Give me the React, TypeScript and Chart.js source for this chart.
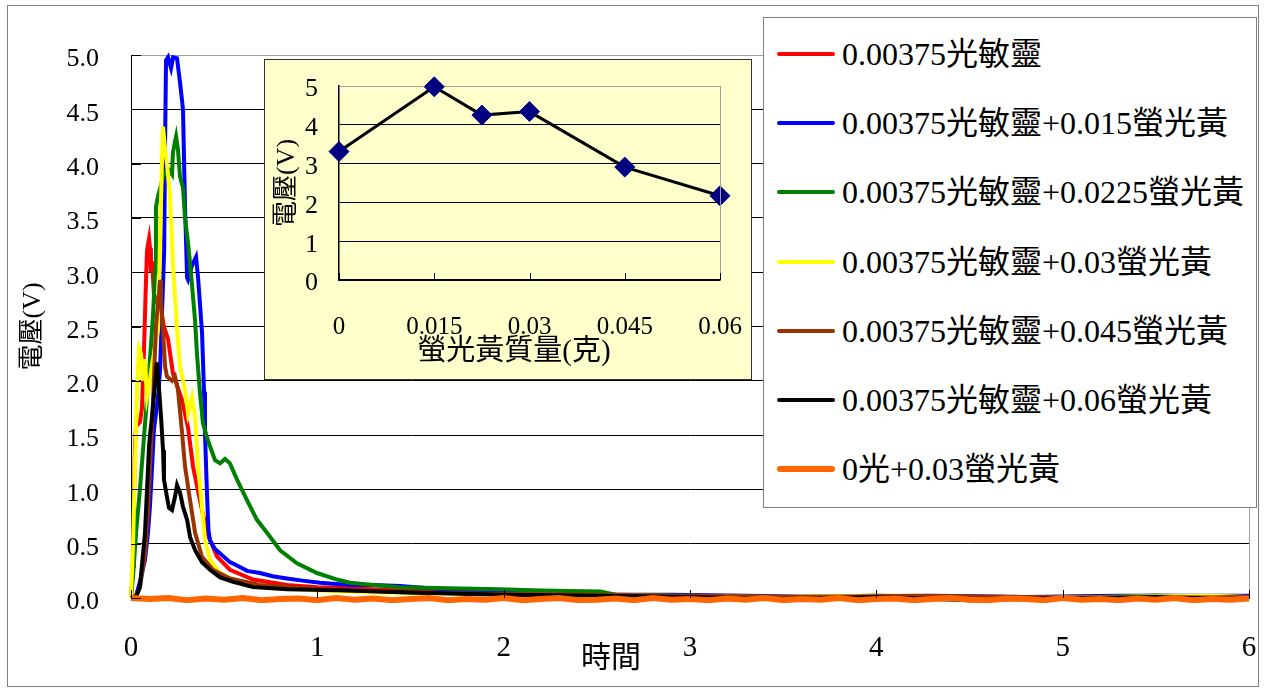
import React, { useEffect, useRef } from 'react';
import { Chart, registerables } from 'chart.js';

Chart.register(...registerables);

const SERIF = "'Liberation Serif', 'Noto Sans CJK TC', serif";

// ---- main chart: voltage traces over time ----
const seriesNames = [
  '0.00375光敏靈',
  '0.00375光敏靈+0.015螢光黃',
  '0.00375光敏靈+0.0225螢光黃',
  '0.00375光敏靈+0.03螢光黃',
  '0.00375光敏靈+0.045螢光黃',
  '0.00375光敏靈+0.06螢光黃',
  '0光+0.03螢光黃',
];
const seriesColors = ['#ff0000', '#0000ff', '#008000', '#ffff00', '#993300', '#000000', '#ff6600'];

const redSeries: [number, number][] = [
  [0, 0], [0.011, 0.3], [0.016, 0.9], [0.021, 1.4], [0.027, 1.58], [0.038, 1.6], [0.048, 1.62],
  [0.059, 1.75], [0.07, 2.3], [0.08, 2.9], [0.086, 3.2], [0.097, 3.31], [0.102, 3.22], [0.107, 3.0],
  [0.113, 3.1], [0.123, 2.8], [0.14, 2.72], [0.156, 2.7], [0.177, 2.5], [0.199, 2.38], [0.225, 2.07],
  [0.274, 1.82], [0.306, 1.57], [0.333, 1.21], [0.37, 0.9], [0.408, 0.6], [0.462, 0.38], [0.531, 0.26],
  [0.655, 0.17], [0.837, 0.12], [1.0, 0.1], [1.176, 0.09], [1.444, 0.07], [1.8, 0.05], [2.2, 0.04],
  [2.6, 0.03], [3.0, 0.02], [3.5, 0.01], [4.0, 0.02], [4.5, 0.0], [5.0, 0.01], [5.5, 0.02], [6.0, 0.01],
];

const blueSeries: [number, number][] = [
  [0, 0], [0.027, 0.02], [0.048, 0.15], [0.075, 0.35], [0.091, 0.6], [0.102, 0.85], [0.113, 1.2],
  [0.123, 1.55], [0.134, 1.7], [0.145, 1.85], [0.156, 2.1], [0.166, 2.6], [0.178, 3.2], [0.183, 4.2],
  [0.188, 4.95], [0.199, 4.98], [0.215, 4.88], [0.226, 4.98], [0.247, 4.97], [0.263, 4.75], [0.279, 4.5],
  [0.29, 3.6], [0.301, 2.95], [0.306, 2.93], [0.327, 3.06], [0.349, 3.14], [0.36, 2.95], [0.381, 2.45],
  [0.392, 1.9], [0.397, 1.52], [0.408, 0.95], [0.416, 0.62], [0.424, 0.53], [0.451, 0.45], [0.478, 0.41],
  [0.531, 0.33], [0.569, 0.3], [0.623, 0.25], [0.692, 0.23], [0.76, 0.2], [0.837, 0.18], [0.92, 0.16],
  [1.014, 0.14], [1.1, 0.13], [1.176, 0.12], [1.3, 0.12], [1.444, 0.11], [1.6, 0.09], [1.8, 0.07],
  [2.0, 0.06], [2.2, 0.05], [2.4, 0.04], [2.6, 0.03], [2.9, 0.03], [3.3, 0.02], [3.8, 0.01], [4.3, 0.02],
  [4.8, 0.01], [5.3, 0.02], [6.0, 0.02],
];

const greenSeries: [number, number][] = [
  [0, 0], [0.011, 0.2], [0.027, 0.6], [0.048, 1.0], [0.075, 1.6], [0.102, 2.2], [0.118, 2.6], [0.129, 3.0],
  [0.134, 3.6], [0.145, 3.7], [0.161, 3.8], [0.172, 3.88], [0.188, 3.92], [0.204, 3.94], [0.22, 3.9],
  [0.225, 4.1], [0.236, 4.2], [0.242, 4.25], [0.252, 4.13], [0.263, 3.88], [0.279, 3.78], [0.29, 3.5],
  [0.306, 3.27], [0.317, 3.08], [0.333, 2.77], [0.344, 2.55], [0.354, 2.25], [0.37, 1.89], [0.386, 1.61],
  [0.413, 1.45], [0.451, 1.27], [0.478, 1.24], [0.505, 1.28], [0.531, 1.24], [0.569, 1.09], [0.623, 0.9],
  [0.676, 0.72], [0.73, 0.6], [0.8, 0.44], [0.891, 0.32], [0.998, 0.23], [1.106, 0.17], [1.176, 0.14],
  [1.3, 0.12], [1.444, 0.1], [1.7, 0.09], [1.98, 0.08], [2.2, 0.07], [2.52, 0.06], [2.6, 0.03], [3.0, 0.02],
  [3.5, 0.01], [4.0, 0.02], [4.5, 0.01], [5.0, 0.0], [5.5, 0.02], [6.0, 0.01],
];

const yellowSeries: [number, number][] = [
  [0, 0], [0.011, 0.5], [0.021, 1.2], [0.032, 1.9], [0.043, 2.3], [0.054, 2.25], [0.064, 2.0], [0.075, 2.2],
  [0.086, 1.85], [0.097, 1.95], [0.113, 2.15], [0.129, 2.3], [0.145, 2.47], [0.156, 3.3], [0.166, 4.0],
  [0.172, 4.34], [0.182, 4.15], [0.193, 4.0], [0.209, 3.7], [0.225, 3.08], [0.247, 2.47], [0.263, 2.13],
  [0.29, 1.92], [0.306, 1.7], [0.327, 1.85], [0.344, 1.67], [0.36, 1.21], [0.381, 0.84], [0.397, 0.53],
  [0.424, 0.35], [0.478, 0.23], [0.569, 0.15], [0.746, 0.1], [1.0, 0.07], [1.3, 0.05], [1.7, 0.04],
  [2.2, 0.03], [2.8, 0.02], [3.4, 0.01], [4.0, 0.02], [4.6, 0.0], [5.2, 0.01], [5.8, 0.02], [6.0, 0.01],
];

const brownSeries: [number, number][] = [
  [0, 0], [0.027, 0.02], [0.048, 0.1], [0.075, 0.4], [0.091, 0.8], [0.102, 1.2], [0.118, 1.8], [0.134, 2.5],
  [0.15, 2.8], [0.156, 2.93], [0.161, 2.75], [0.172, 2.45], [0.183, 2.13], [0.193, 2.04], [0.22, 2.0],
  [0.236, 2.04], [0.252, 1.92], [0.274, 1.52], [0.29, 1.21], [0.317, 0.9], [0.344, 0.6], [0.381, 0.38],
  [0.44, 0.26], [0.531, 0.18], [0.692, 0.12], [0.923, 0.09], [1.176, 0.07], [1.5, 0.05], [1.9, 0.04],
  [2.4, 0.03], [3.0, 0.02], [3.6, 0.01], [4.2, 0.02], [4.8, 0.01], [5.4, 0.0], [6.0, 0.01],
];

const blackSeries: [number, number][] = [
  [0, 0], [0.027, 0.01], [0.048, 0.1], [0.064, 0.4], [0.075, 0.6], [0.086, 1.0], [0.097, 1.4], [0.102, 1.5],
  [0.113, 1.67], [0.129, 1.98], [0.14, 2.17], [0.15, 1.94], [0.161, 1.67], [0.172, 1.36], [0.177, 1.09],
  [0.193, 0.93], [0.204, 0.83], [0.22, 0.81], [0.236, 0.93], [0.247, 1.04], [0.263, 0.97], [0.279, 0.84],
  [0.301, 0.72], [0.317, 0.56], [0.344, 0.44], [0.381, 0.33], [0.424, 0.26], [0.478, 0.19], [0.548, 0.15],
  [0.655, 0.1], [0.837, 0.08], [1.176, 0.07], [1.5, 0.05], [2.0, 0.03], [2.5, 0.02], [3.0, 0.01],
  [3.5, -0.01], [4.0, 0.01], [4.5, -0.02], [5.0, 0.0], [5.5, 0.01], [6.0, -0.01],
];

const orangeSeries: [number, number][] = [
  [0, 0], [0.1, -0.01], [0.2, 0], [0.3, -0.02], [0.4, -0.005], [0.5, -0.015], [0.6, 0], [0.7, -0.02],
  [0.8, -0.01], [0.9, -0.005], [1.0, -0.02], [1.1, 0], [1.2, -0.015], [1.3, -0.005], [1.4, -0.02],
  [1.5, -0.01], [1.6, 0], [1.7, -0.02], [1.8, -0.01], [1.9, -0.015], [2.0, 0], [2.1, -0.02], [2.2, -0.01],
  [2.3, 0], [2.4, -0.02], [2.5, -0.015], [2.6, -0.005], [2.7, -0.02], [2.8, 0], [2.9, -0.015], [3.0, -0.01],
  [3.1, -0.02], [3.2, -0.005], [3.3, -0.015], [3.4, 0], [3.5, -0.02], [3.6, -0.01], [3.7, -0.015],
  [3.8, 0], [3.9, -0.02], [4.0, -0.01], [4.1, -0.005], [4.2, -0.02], [4.3, -0.01], [4.4, 0],
  [4.5, -0.015], [4.6, -0.02], [4.7, -0.005], [4.8, -0.01], [4.9, -0.02], [5.0, 0], [5.1, -0.015],
  [5.2, -0.01], [5.3, -0.02], [5.4, -0.005], [5.5, -0.015], [5.6, 0], [5.7, -0.02], [5.8, -0.01],
  [5.9, -0.015], [6.0, -0.005],
];

const allSeries = [redSeries, blueSeries, greenSeries, yellowSeries, brownSeries, blackSeries, orangeSeries];

const timeTickLabels = ['0', '1', '2', '3', '4', '5', '6'];
const voltTickLabels = ['0.0', '0.5', '1.0', '1.5', '2.0', '2.5', '3.0', '3.5', '4.0', '4.5', '5.0'];

// ---- inset: peak voltage vs. fluorescein mass ----
const insetMass = [0, 0.015, 0.0225, 0.03, 0.045, 0.06];
const insetVoltage = [3.31, 4.98, 4.25, 4.34, 2.91, 2.17];
const insetMassTicks = [0, 0.015, 0.03, 0.045, 0.06];
const insetMassLabels = ['0', '0.015', '0.03', '0.045', '0.06'];
const insetVoltLabels = ['0', '1', '2', '3', '4', '5'];

const MAIN_W = 1265;
const MAIN_H = 689;
const INSET_W = 486;
const INSET_H = 319;

// keep the plot area where the layout padding puts it (no extra room for edge labels)
const dropScalePadding = (s: any) => {
  s.paddingLeft = 0;
  s.paddingRight = 0;
  s.paddingTop = 0;
  s.paddingBottom = 0;
};

function MainChart() {
  const ref = useRef<HTMLCanvasElement | null>(null);
  useEffect(() => {
    if (!ref.current) return;
    const decorations = {
      id: 'mainDecor',
      afterDraw(chart: any) {
        const { ctx, chartArea, scales } = chart;
        ctx.save();
        // right frame of the plot area
        ctx.strokeStyle = '#a0a0a0';
        ctx.lineWidth = 1;
        ctx.beginPath();
        ctx.moveTo(Math.round(chartArea.right) + 0.5, chartArea.top);
        ctx.lineTo(Math.round(chartArea.right) + 0.5, chartArea.bottom);
        ctx.stroke();
        // inward tick marks
        ctx.strokeStyle = '#000';
        ctx.beginPath();
        timeTickLabels.forEach((_, i) => {
          const x = Math.round(scales.x.getPixelForValue(i)) + 0.5;
          ctx.moveTo(x, chartArea.bottom);
          ctx.lineTo(x, chartArea.bottom - 8);
        });
        voltTickLabels.forEach((_, i) => {
          const y = Math.round(scales.y.getPixelForValue(i * 0.5)) + 0.5;
          ctx.moveTo(chartArea.left, y);
          ctx.lineTo(chartArea.left + 10, y);
        });
        ctx.stroke();
        // x axis title
        ctx.fillStyle = '#000';
        ctx.font = `30px ${SERIF}`;
        ctx.textAlign = 'center';
        ctx.textBaseline = 'middle';
        ctx.fillText('時間', 611, 659);
        ctx.restore();
      },
    };
    const orders = [6, 5, 4, 3, 2, 1, 0];
    const chart = new Chart(ref.current, {
      type: 'line',
      data: {
        datasets: allSeries.map((s, i) => ({
          label: seriesNames[i],
          data: s.map(([x, y]) => ({ x, y })),
          borderColor: seriesColors[i],
          backgroundColor: seriesColors[i],
          borderWidth: i === 6 ? 6 : 4,
          pointRadius: 0,
          tension: 0,
          fill: false,
          order: orders[i],
          clip: 5,
        })),
      },
      options: {
        responsive: false,
        animation: false,
        events: [],
        layout: { padding: { top: 55, right: 16, left: 0, bottom: 0 } },
        plugins: { legend: { display: false }, tooltip: { enabled: false }, title: { display: false } },
        scales: {
          x: {
            type: 'linear',
            min: 0,
            max: 6,
            afterBuildTicks: (s: any) => {
              s.ticks = timeTickLabels.map((_, i) => ({ value: i }));
            },
            afterFit: (s: any) => {
              s.height = 91;
              dropScalePadding(s);
            },
            ticks: {
              callback: (_v: any, i: number) => timeTickLabels[i],
              font: { family: SERIF, size: 29 },
              color: '#000',
              padding: 33,
              maxRotation: 0,
              autoSkip: false,
            },
            grid: { drawOnChartArea: false, drawTicks: false },
            border: { color: '#000', width: 1 },
          },
          y: {
            type: 'linear',
            min: 0,
            max: 5,
            afterFit: (s: any) => {
              s.width = 131;
              dropScalePadding(s);
            },
            ticks: {
              stepSize: 0.5,
              callback: (_v: any, i: number) => voltTickLabels[i],
              font: { family: SERIF, size: 26 },
              color: '#000',
              padding: 32,
              labelOffset: 4.5,
            },
            grid: {
              drawTicks: false,
              lineWidth: 1,
              color: (c: any) => (c.tick && c.tick.value === 5 ? '#a0a0a0' : '#000'),
            },
            border: { color: '#000', width: 1 },
            title: {
              display: true,
              text: '電壓(V)',
              font: { family: SERIF, size: 26 },
              color: '#000',
              padding: { top: 18, bottom: 0 },
            },
          },
        },
      },
      plugins: [decorations],
    } as any);
    return () => chart.destroy();
  }, []);
  return <canvas ref={ref} width={MAIN_W} height={MAIN_H} style={{ position: 'absolute', left: 0, top: 0 }} />;
}

function InsetChart() {
  const ref = useRef<HTMLCanvasElement | null>(null);
  useEffect(() => {
    if (!ref.current) return;
    const decorations = {
      id: 'insetDecor',
      afterDraw(chart: any) {
        const { ctx, chartArea, scales } = chart;
        ctx.save();
        ctx.strokeStyle = '#a0a0a0';
        ctx.lineWidth = 1;
        ctx.beginPath();
        ctx.moveTo(Math.round(chartArea.right) + 0.5, chartArea.top);
        ctx.lineTo(Math.round(chartArea.right) + 0.5, chartArea.bottom);
        ctx.stroke();
        ctx.strokeStyle = '#000';
        ctx.beginPath();
        insetMassTicks.forEach((m) => {
          const x = Math.round(scales.x.getPixelForValue(m)) + 0.5;
          ctx.moveTo(x, chartArea.bottom);
          ctx.lineTo(x, chartArea.bottom - 7);
        });
        ctx.stroke();
        ctx.fillStyle = '#000';
        ctx.font = `29px ${SERIF}`;
        ctx.textAlign = 'center';
        ctx.textBaseline = 'middle';
        ctx.fillText('螢光黃質量(克)', 249, 292);
        ctx.restore();
      },
    };
    const chart = new Chart(ref.current, {
      type: 'line',
      data: {
        datasets: [
          {
            data: insetMass.map((m, i) => ({ x: m, y: insetVoltage[i] })),
            borderColor: '#000',
            borderWidth: 3,
            tension: 0,
            pointStyle: 'rectRot',
            pointRadius: 10,
            pointBackgroundColor: '#000080',
            pointBorderColor: '#000080',
            pointBorderWidth: 1,
            clip: false,
          },
        ],
      },
      options: {
        responsive: false,
        animation: false,
        events: [],
        layout: { padding: { top: 26, right: 31, left: 0, bottom: 0 } },
        plugins: { legend: { display: false }, tooltip: { enabled: false } },
        scales: {
          x: {
            type: 'linear',
            min: 0,
            max: 0.06,
            afterBuildTicks: (s: any) => {
              s.ticks = insetMassTicks.map((v) => ({ value: v }));
            },
            afterFit: (s: any) => {
              s.height = 99;
              dropScalePadding(s);
            },
            ticks: {
              callback: (_v: any, i: number) => insetMassLabels[i],
              font: { family: SERIF, size: 25 },
              color: '#000',
              padding: 32,
              maxRotation: 0,
              autoSkip: false,
            },
            grid: { drawOnChartArea: false, drawTicks: false },
            border: { color: '#000', width: 1.5 },
          },
          y: {
            type: 'linear',
            min: 0,
            max: 5,
            afterFit: (s: any) => {
              s.width = 74;
              dropScalePadding(s);
            },
            ticks: {
              stepSize: 1,
              callback: (_v: any, i: number) => insetVoltLabels[i],
              font: { family: SERIF, size: 26 },
              color: '#000',
              padding: 21,
              labelOffset: 3.5,
            },
            grid: {
              drawTicks: false,
              lineWidth: 1,
              color: (c: any) => (c.tick && c.tick.value === 5 ? '#a0a0a0' : '#000'),
            },
            border: { color: '#000', width: 1.5 },
            title: {
              display: true,
              text: '電壓(V)',
              font: { family: SERIF, size: 26 },
              color: '#000',
              padding: { top: 7, bottom: 0 },
            },
          },
        },
      },
      plugins: [decorations],
    } as any);
    return () => chart.destroy();
  }, []);
  return <canvas ref={ref} width={INSET_W} height={INSET_H} style={{ display: 'block' }} />;
}

function Legend() {
  return (
    <div
      style={{
        position: 'absolute',
        left: 763,
        top: 17,
        width: 494,
        height: 491,
        boxSizing: 'border-box',
        border: '1px solid #808080',
        background: '#fff',
      }}
    >
      {seriesNames.map((name, i) => (
        <div
          key={name}
          style={{
            position: 'absolute',
            left: 13,
            top: 36 + i * 69.2 - 20,
            height: 40,
            display: 'flex',
            alignItems: 'center',
            whiteSpace: 'nowrap',
          }}
        >
          <span
            style={{
              display: 'inline-block',
              width: 58,
              height: i === 6 ? 6 : 4,
              borderRadius: 3,
              background: seriesColors[i],
              marginRight: 7,
            }}
          />
          <span style={{ fontFamily: SERIF, fontSize: 32, color: '#000', lineHeight: '40px' }}>{name}</span>
        </div>
      ))}
    </div>
  );
}

export default function App() {
  return (
    <div
      style={{
        position: 'fixed',
        left: 0,
        top: 0,
        width: MAIN_W,
        height: MAIN_H,
        background: '#fff',
        overflow: 'hidden',
      }}
    >
      <div
        style={{
          position: 'absolute',
          left: 7,
          top: 5,
          width: 1252,
          height: 682,
          boxSizing: 'border-box',
          border: '1px solid #808080',
        }}
      />
      <MainChart />
      <div
        style={{
          position: 'absolute',
          left: 264,
          top: 59,
          width: INSET_W + 2,
          height: INSET_H + 2,
          boxSizing: 'border-box',
          border: '1px solid #333',
          background: '#ffffcc',
        }}
      >
        <InsetChart />
      </div>
      <Legend />
    </div>
  );
}
